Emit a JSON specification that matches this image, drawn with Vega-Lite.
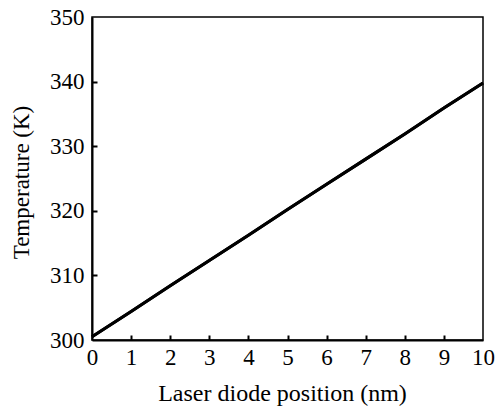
{
  "$schema": "https://vega.github.io/schema/vega-lite/v6.json",
  "width": 391,
  "height": 323,
  "autosize": {"type": "none"},
  "padding": {"left": 92, "top": 17, "right": 13, "bottom": 67},
  "background": "white",
  "config": {
    "view": {"stroke": "black", "strokeWidth": 1.5},
    "axis": {"grid": false}
  },
  "data": {
    "values": [
      {"x": 0, "t": 300.5},
      {"x": 1, "t": 304.4},
      {"x": 2, "t": 308.4},
      {"x": 3, "t": 312.3},
      {"x": 4, "t": 316.2},
      {"x": 5, "t": 320.2},
      {"x": 6, "t": 324.1},
      {"x": 7, "t": 328.0},
      {"x": 8, "t": 331.9},
      {"x": 9, "t": 335.9},
      {"x": 10, "t": 339.8}
    ]
  },
  "layer": [
    {
      "mark": {"type": "line", "color": "black", "strokeWidth": 3},
      "encoding": {
        "x": {
          "field": "x",
          "type": "quantitative",
          "scale": {"domain": [0, 10], "nice": false, "zero": false},
          "axis": {
            "orient": "bottom",
            "title": "Laser diode position (nm)",
            "values": [0, 1, 2, 3, 4, 5, 6, 7, 8, 9, 10],
            "labelFont": "Liberation Serif",
            "titleFont": "Liberation Serif",
            "labelFontSize": 23,
            "titleFontSize": 24,
            "titleFontWeight": "normal",
            "labelColor": "black",
            "titleColor": "black",
            "domainColor": "black",
            "domainWidth": 2,
            "tickSize": 0,
            "tickWidth": 0,
            "grid": false,
            "labelPadding": 6,
            "labelFlush": false,
            "titleX": 190,
            "titleY": 60,
            "titleBaseline": "alphabetic"
          }
        },
        "y": {
          "field": "t",
          "type": "quantitative",
          "scale": {"domain": [300, 350], "nice": false, "zero": false},
          "axis": {
            "orient": "left",
            "title": "Temperature (K)",
            "values": [300, 310, 320, 330, 340, 350],
            "labelFont": "Liberation Serif",
            "titleFont": "Liberation Serif",
            "labelFontSize": 23,
            "titleFontSize": 23,
            "titleFontWeight": "normal",
            "labelColor": "black",
            "titleColor": "black",
            "domainColor": "black",
            "domainWidth": 2,
            "tickSize": 0,
            "tickWidth": 0,
            "grid": false,
            "labelPadding": 8,
            "labelFlush": false,
            "titleX": -64,
            "titleY": 165,
            "titleAngle": -90,
            "titleBaseline": "alphabetic"
          }
        }
      }
    },
    {
      "mark": {"type": "line", "color": "black", "strokeWidth": 3},
      "encoding": {
        "x": {
          "field": "x",
          "type": "quantitative",
          "axis": {
            "orient": "top",
            "offset": -323,
            "title": null,
            "labels": false,
            "domain": false,
            "grid": false,
            "values": [1, 2, 3, 4, 5, 6, 7, 8, 9],
            "tickColor": "black",
            "tickWidth": 2,
            "tickSize": 5
          }
        },
        "y": {
          "field": "t",
          "type": "quantitative",
          "axis": {
            "orient": "right",
            "offset": -391,
            "title": null,
            "labels": false,
            "domain": false,
            "grid": false,
            "values": [310, 320, 330, 340],
            "tickColor": "black",
            "tickWidth": 2,
            "tickSize": 5
          }
        }
      }
    }
  ],
  "resolve": {"axis": {"x": "independent", "y": "independent"}}
}
